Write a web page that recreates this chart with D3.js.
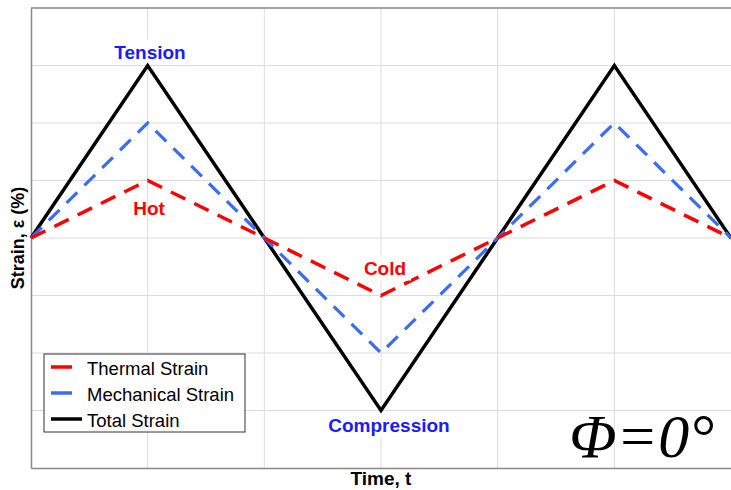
<!DOCTYPE html>
<html><head><meta charset="utf-8">
<script src="https://cdn.jsdelivr.net/npm/d3@7"></script>
<style>body{margin:0;background:#fff}svg{display:block}</style>
</head><body><svg id="c" width="731" height="490"></svg>
<script>
const times = [0,1,2,3,4,5,6];
const thermal = [0,1,0,-1,0,1,0];
const mechanical = [0,2,0,-2,0,2,0];
const total = [0,3,0,-3,0,3,0];
const xTicks = [0,1,2,3,4,5,6];
const yTicks = [-4,-3,-2,-1,0,1,2,3,4];
const seriesNames = ["Thermal Strain","Mechanical Strain","Total Strain"];

const svg = d3.select("#c");
const m = {l:31, r:0, t:8, b:22};
const W = 731, H = 490;
const x = d3.scaleLinear().domain([0,6]).range([m.l, W - m.r]);
const y = d3.scaleLinear().domain([-4,4]).range([H - m.b, m.t]);
const FONT = "Arial, Liberation Sans, sans-serif";

// grid
svg.append("g").selectAll("line").data(xTicks.slice(1,-1)).join("line")
  .attr("x1",d=>x(d)).attr("x2",d=>x(d)).attr("y1",y(4)).attr("y2",y(-4))
  .attr("stroke","#dcdcdc").attr("stroke-width",1);
svg.append("g").selectAll("line").data(yTicks.slice(1,-1)).join("line")
  .attr("x1",x(0)).attr("x2",x(6)).attr("y1",d=>y(d)).attr("y2",d=>y(d))
  .attr("stroke","#dcdcdc").attr("stroke-width",1);

// axes (no tick labels)
svg.append("g").attr("transform",`translate(0,${y(-4)})`)
  .call(d3.axisBottom(x).tickValues([]).tickSizeOuter(0))
  .call(g=>g.select(".domain").attr("stroke","#888").attr("stroke-width",1.5));
svg.append("g").attr("transform",`translate(${x(0)},0)`)
  .call(d3.axisLeft(y).tickValues([]).tickSizeOuter(0))
  .call(g=>g.select(".domain").attr("stroke","#888").attr("stroke-width",1.5));
svg.append("line").attr("x1",x(0)).attr("x2",x(6)).attr("y1",y(4)).attr("y2",y(4))
  .attr("stroke","#888").attr("stroke-width",1.5);

const line = d3.line().x((d,i)=>x(times[i])).y(d=>y(d));
const layers = [
  {data: total, color:"#000", dash:null, w:3.5},
  {data: mechanical, color:"#3a6cf4", dash:"15,10", w:3.2},
  {data: thermal, color:"#ff0000", dash:"16,10", w:3.5}
];
function label(txt, cx, cy, color, bg){
  const g = svg.append("g");
  const t = g.append("text").attr("x",cx).attr("y",cy).attr("text-anchor","middle")
    .attr("dominant-baseline","central").attr("font-family",FONT)
    .attr("font-weight","bold").attr("font-size",19).attr("fill",color).text(txt);
  if(bg){
    const b = t.node().getBBox();
    g.insert("rect","text").attr("x",b.x-5).attr("y",b.y-2).attr("width",b.width+10).attr("height",b.height+4).attr("fill","#fff");
  }
}
label("Tension", 150, 52, "#1a1aff", true);
label("Compression", 389, 425, "#1a1aff", true);

layers.forEach(L=>{
  svg.append("path").datum(L.data).attr("d",line).attr("fill","none")
    .attr("stroke",L.color).attr("stroke-width",L.w).attr("stroke-linejoin","miter")
    .attr("stroke-dasharray",L.dash);
});
label("Hot", 149, 208, "#ff0000", false);
label("Cold", 385, 268, "#ff0000", true);

// legend
const lg = svg.append("g");
lg.append("rect").attr("x",44).attr("y",354).attr("width",201).attr("height",78)
  .attr("fill","#fff").attr("stroke","#333").attr("stroke-width",1);
const legColors = ["#ff0000","#3a6cf4","#000"];
const legLen = [21,21,31];
seriesNames.forEach((n,i)=>{
  const yy = 367 + i*26;
  lg.append("line").attr("x1",51).attr("x2",51+legLen[i]).attr("y1",yy).attr("y2",yy)
    .attr("stroke",legColors[i]).attr("stroke-width",3.5);
  lg.append("text").attr("x",87).attr("y",yy+1).attr("dominant-baseline","central")
    .attr("font-family",FONT).attr("font-size",18.5)
    .attr("fill","#000").text(n);
});

// axis titles
svg.append("text").attr("x",381).attr("y",478).attr("text-anchor","middle").attr("dominant-baseline","central")
  .attr("font-family",FONT).attr("font-weight","bold").attr("font-size",19).text("Time, t");
svg.append("text").attr("transform","translate(18,238) rotate(-90)").attr("text-anchor","middle").attr("dominant-baseline","central")
  .attr("font-family",FONT).attr("font-weight","bold").attr("font-size",18).text("Strain, ε (%)");

// Phi annotation
svg.append("text").attr("x",714).attr("y",457).attr("text-anchor","end")
  .attr("font-family","Liberation Serif, Times New Roman, serif").attr("font-style","italic")
  .attr("font-size",62).attr("fill","#000").text("Φ=0°");
</script></body></html>
